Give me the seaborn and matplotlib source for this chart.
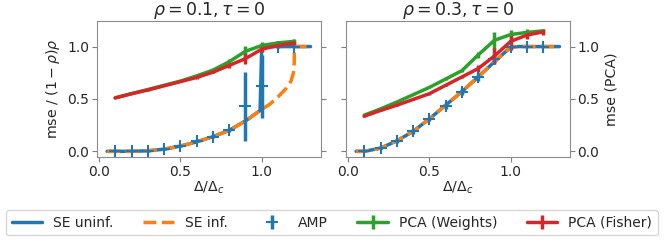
import numpy as np
import pandas as pd
import matplotlib
matplotlib.use("Agg")
import matplotlib.pyplot as plt
import seaborn as sns

sns.set_style("ticks")
plt.rcParams["font.family"] = ["DejaVu Sans"]

# state evolution curves
se_x_left = [0.05, 0.1, 0.2, 0.3, 0.4, 0.5, 0.6, 0.7, 0.8, 0.9, 0.99, 1.0, 1.1, 1.2, 1.3]
se_uninf_left = [0.0, 0.0, 0.0, 0.005, 0.02, 0.05, 0.09, 0.14, 0.2, 0.29, 0.39, 1.0, 1.0, 1.0, 1.0]
se_inf_x_left = [0.05, 0.1, 0.2, 0.3, 0.4, 0.5, 0.6, 0.7, 0.8, 0.9, 1.0, 1.05, 1.1, 1.15, 1.18, 1.195, 1.2, 1.2, 1.3]
se_inf_left = [0.0, 0.0, 0.0, 0.005, 0.02, 0.05, 0.09, 0.14, 0.2, 0.29, 0.40, 0.45, 0.52, 0.6, 0.67, 0.75, 0.85, 1.0, 1.0]

se_x_right = [0.05, 0.1, 0.2, 0.3, 0.4, 0.5, 0.6, 0.7, 0.8, 0.9, 1.0, 1.05, 1.3]
se_uninf_right = [0.0, 0.0, 0.03, 0.10, 0.19, 0.31, 0.44, 0.57, 0.71, 0.855, 0.995, 1.0, 1.0]
se_inf_right = [0.0, 0.0, 0.03, 0.10, 0.19, 0.31, 0.44, 0.57, 0.71, 0.855, 0.995, 1.0, 1.0]

# simulations
delta = [0.1, 0.2, 0.3, 0.4, 0.5, 0.6, 0.7, 0.8, 0.9, 1.0, 1.1, 1.2]

amp_left = [0.0, 0.0, 0.0, 0.02, 0.05, 0.1, 0.14, 0.2, 0.43, 0.62, 1.0, 1.0]
amp_left_err = [0.005, 0.005, 0.005, 0.01, 0.01, 0.015, 0.015, 0.02, 0.33, 0.3, 0.005, 0.005]
pca_w_left = [0.51, 0.55, 0.59, 0.63, 0.67, 0.72, 0.775, 0.855, 0.955, 1.01, 1.035, 1.05]
pca_w_left_err = [0.005, 0.005, 0.005, 0.005, 0.005, 0.01, 0.01, 0.03, 0.05, 0.03, 0.02, 0.02]
pca_f_left = [0.51, 0.55, 0.585, 0.625, 0.665, 0.705, 0.755, 0.82, 0.885, 0.975, 1.01, 1.035]
pca_f_left_err = [0.005, 0.005, 0.005, 0.005, 0.005, 0.01, 0.01, 0.02, 0.05, 0.03, 0.02, 0.02]

amp_right = [0.0, 0.03, 0.10, 0.19, 0.31, 0.43, 0.57, 0.71, 0.88, 1.0, 1.0, 1.0]
amp_right_err = [0.005, 0.01, 0.02, 0.02, 0.02, 0.03, 0.03, 0.04, 0.05, 0.01, 0.005, 0.005]
pca_w_right = [0.345, 0.405, 0.47, 0.54, 0.61, 0.69, 0.77, 0.92, 1.06, 1.115, 1.135, 1.15]
pca_w_right_err = [0.005, 0.005, 0.005, 0.005, 0.01, 0.01, 0.01, 0.03, 0.08, 0.04, 0.03, 0.02]
pca_f_right = [0.335, 0.39, 0.44, 0.495, 0.55, 0.63, 0.71, 0.79, 0.91, 1.05, 1.11, 1.14]
pca_f_right_err = [0.005, 0.005, 0.005, 0.005, 0.01, 0.01, 0.01, 0.03, 0.08, 0.08, 0.04, 0.03]

titles = [r"$\rho = 0.1, \tau = 0$", r"$\rho = 0.3, \tau = 0$"]

pal = sns.color_palette("tab10")
blue, orange, green, red = pal[0], pal[1], pal[2], pal[3]

fig = plt.figure(figsize=(6.64, 2.43), dpi=100)
ax1 = fig.add_axes([0.146, 0.354, 0.337, 0.560])
ax2 = fig.add_axes([0.521, 0.354, 0.337, 0.560], sharey=ax1)

panels = [
    (ax1, se_x_left, se_uninf_left, se_inf_x_left, se_inf_left, amp_left, amp_left_err,
     pca_w_left, pca_w_left_err, pca_f_left, pca_f_left_err),
    (ax2, se_x_right, se_uninf_right, se_x_right, se_inf_right, amp_right, amp_right_err,
     pca_w_right, pca_w_right_err, pca_f_right, pca_f_right_err),
]

for i, (ax, sx, su, six, si, amp, amp_e, pw, pw_e, pf, pf_e) in enumerate(panels):
    sns.lineplot(x=sx, y=su, ax=ax, color=blue, lw=2.5, sort=False, estimator=None,
                 label="SE uninf.")
    sns.lineplot(x=six, y=si, ax=ax, color=orange, lw=2.5, ls="--", sort=False,
                 estimator=None, label="SE inf.")
    ax.errorbar(delta, amp, yerr=amp_e, fmt="+", color=blue, ms=8, mew=1.5,
                elinewidth=2.5, label="AMP")
    ax.errorbar(delta, pw, yerr=pw_e, color=green, lw=2.5, elinewidth=2.5,
                label="PCA (Weights)")
    ax.errorbar(delta, pf, yerr=pf_e, color=red, lw=2.5, elinewidth=2.5,
                label="PCA (Fisher)")
    ax.set_title(titles[i], fontsize=12.5, pad=2)
    ax.set_xlabel(r"$\Delta/\Delta_c$", fontsize=10.2, labelpad=1)
    ax.set_xticks([0.0, 0.5, 1.0])
    ax.set_yticks([0.0, 0.5, 1.0])
    ax.tick_params(labelsize=10, color="0.5", left=True, right=True, pad=2)
    for s in ax.spines.values():
        s.set_color("0.55")
    ax.get_legend().remove()

ax1.set_ylim(-0.054, 1.245)
ax1.set_ylabel(r"mse / $(1-\rho)\rho$", fontsize=10.2)
ax2.yaxis.set_label_position("right")
ax2.set_ylabel("mse (PCA)", fontsize=10.2)
ax2.tick_params(labelleft=False, labelright=True)

handles, labels = ax1.get_legend_handles_labels()
fig.legend(handles, labels, loc="center", bbox_to_anchor=(0.5, 0.083), ncol=5,
           fontsize=10, frameon=True, columnspacing=2.1, handlelength=2.2,
           handletextpad=0.8)

fig.savefig("out.png", dpi=100)
